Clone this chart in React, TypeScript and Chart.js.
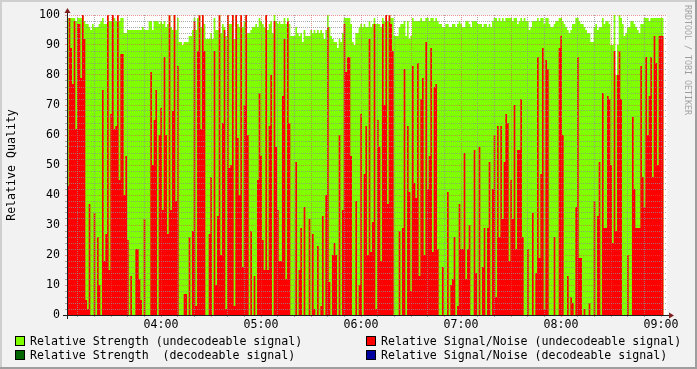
import React, { useEffect, useRef } from 'react';
import { Chart, registerables } from 'chart.js';

Chart.register(...registerables);

const FONT = "'DejaVu Sans Mono', monospace";

// time axis in minutes after 03:00
const startMinute = 3.6;
const endMinute = 363.6;
const stepMinutes = 1;

const hourTicks = [60, 120, 180, 240, 300, 360];
const hourLabels = ['04:00', '05:00', '06:00', '07:00', '08:00', '09:00'];

const strengthUndecodeable = [
  100, 99, 99, 99, 99, 99, 98, 99, 99, 99, 100, 98, 97, 97, 96, 95, 97, 96, 96, 96,
  97, 98, 99, 97, 97, 100, 98, 98, 100, 99, 98, 100, 98, 99, 99, 94, 94, 95, 95, 95,
  95, 95, 95, 95, 95, 95, 96, 95, 95, 95, 98, 98, 95, 98, 98, 98, 97, 98, 97, 98,
  96, 97, 100, 96, 95, 100, 95, 99, 91, 91, 90, 91, 91, 91, 93, 93, 95, 99, 95, 99,
  100, 96, 100, 97, 92, 92, 92, 94, 92, 99, 95, 95, 100, 94, 97, 96, 93, 100, 97, 97,
  100, 92, 100, 97, 96, 100, 96, 98, 100, 94, 94, 95, 96, 96, 97, 96, 99, 98, 97, 96,
  100, 95, 97, 98, 94, 100, 98, 97, 98, 97, 97, 99, 97, 99, 97, 93, 93, 93, 96, 94,
  93, 94, 91, 95, 93, 93, 93, 95, 94, 95, 94, 95, 94, 95, 94, 92, 95, 100, 96, 93,
  92, 91, 91, 89, 92, 91, 94, 99, 99, 99, 99, 97, 91, 90, 94, 94, 96, 97, 96, 97,
  96, 96, 98, 96, 97, 99, 97, 97, 97, 96, 99, 98, 100, 98, 100, 99, 99, 93, 93, 93,
  96, 97, 97, 98, 93, 98, 92, 93, 99, 98, 98, 98, 98, 99, 98, 98, 99, 99, 98, 99,
  99, 98, 99, 98, 97, 97, 96, 96, 97, 97, 96, 96, 97, 97, 96, 97, 98, 97, 96, 96,
  98, 98, 97, 96, 98, 98, 98, 97, 97, 97, 96, 97, 97, 96, 97, 96, 98, 99, 99, 98,
  99, 98, 99, 98, 99, 99, 99, 99, 98, 99, 99, 97, 98, 99, 98, 99, 98, 98, 95, 96,
  98, 98, 98, 99, 98, 99, 99, 97, 99, 99, 97, 96, 96, 97, 98, 98, 99, 99, 98, 97,
  96, 95, 94, 95, 97, 97, 99, 99, 98, 97, 97, 96, 95, 94, 94, 91, 91, 96, 97, 95,
  96, 96, 99, 97, 98, 98, 97, 90, 90, 100, 80, 90, 100, 99, 97, 93, 94, 96, 96, 98,
  98, 97, 96, 95, 94, 97, 97, 99, 99, 99, 98, 99, 99, 99, 99, 99, 99, 99,
];

const snrUndecodeable = [
  100, 43, 99, 89, 77, 98, 62, 97, 97, 79, 100, 92, 5, 2, 37, 0, 0, 34, 0, 26,
  10, 0, 75, 18, 27, 100, 15, 67, 100, 62, 63, 100, 45, 87, 87, 40, 53, 25, 0, 13,
  0, 0, 22, 22, 12, 5, 0, 32, 0, 0, 0, 81, 50, 65, 75, 0, 60, 69, 35, 86,
  60, 27, 100, 35, 68, 100, 38, 83, 0, 0, 0, 7, 7, 0, 26, 0, 28, 98, 3, 88,
  100, 62, 100, 88, 0, 0, 27, 46, 0, 88, 10, 33, 100, 20, 64, 95, 2, 100, 49, 50,
  100, 3, 100, 59, 40, 100, 16, 70, 100, 60, 0, 28, 0, 13, 0, 45, 74, 53, 25, 15,
  100, 15, 63, 80, 0, 98, 56, 35, 18, 18, 73, 92, 12, 98, 64, 0, 0, 0, 51, 0,
  15, 29, 0, 36, 0, 0, 32, 0, 27, 2, 0, 23, 0, 3, 33, 0, 40, 96, 11, 0,
  20, 24, 20, 0, 60, 0, 35, 97, 81, 86, 86, 53, 0, 0, 38, 0, 10, 67, 0, 47,
  63, 20, 92, 21, 31, 97, 2, 65, 56, 18, 97, 70, 100, 37, 100, 97, 88, 0, 0, 0,
  28, 0, 29, 82, 0, 63, 41, 8, 83, 44, 39, 84, 13, 72, 79, 20, 91, 42, 53, 89,
  21, 76, 77, 22, 0, 0, 16, 0, 0, 41, 0, 10, 12, 26, 0, 3, 37, 22, 22, 54,
  12, 22, 30, 0, 0, 55, 14, 0, 56, 0, 16, 29, 0, 29, 51, 0, 42, 60, 6, 63,
  26, 63, 32, 51, 67, 64, 18, 45, 32, 70, 22, 55, 55, 72, 26, 0, 0, 22, 0, 0,
  34, 0, 14, 86, 19, 47, 89, 2, 85, 82, 0, 0, 0, 26, 0, 0, 89, 93, 60, 0,
  0, 13, 0, 6, 4, 0, 36, 86, 19, 19, 0, 2, 0, 0, 4, 0, 0, 38, 0, 33,
  51, 0, 74, 29, 29, 73, 72, 50, 24, 88, 28, 80, 88, 72, 0, 0, 0, 20, 0, 0,
  66, 42, 29, 29, 29, 83, 46, 36, 86, 60, 73, 86, 46, 93, 84, 50, 93, 93,
];

const strengthDecodeable: number[] = [];
const snrDecodeable: number[] = [];

const seriesLabels = [
  'Relative Strength (undecodeable signal)',
  'Relative Signal/Noise (undecodeable signal)',
  'Relative Strength  (decodeable signal)',
  'Relative Signal/Noise (decodeable signal)',
];
const seriesColors = ['#7FFF00', '#FF0000', '#006400', '#0000A0'];

const yTickValues = Array.from({ length: 51 }, (_, k) => k * 2);
const xGridValues = Array.from({ length: 36 }, (_, k) => (k + 1) * 10);

// each sample covers [start + i*step, start + (i+1)*step]; the closing point repeats the last sample
const toSteps = (vals: number[]) => {
  const pts = vals.map((v, i) => ({ x: startMinute + i * stepMinutes, y: v }));
  if (vals.length) pts.push({ x: startMinute + vals.length * stepMinutes, y: vals[vals.length - 1] });
  return pts;
};

const GRID = 'rgba(143,143,143,0.75)';
const MGRID = 'rgba(222,79,79,0.6)';

const rrdPlugin = {
  id: 'rrdDecor',
  beforeDraw(chart: any) {
    const { ctx, chartArea: a, width, height } = chart;
    ctx.save();
    ctx.fillStyle = '#F2F2F2';
    ctx.fillRect(0, 0, width, height);
    ctx.fillStyle = '#CFCFCF';
    ctx.fillRect(0, 0, width, 2);
    ctx.fillRect(0, 0, 2, height);
    ctx.fillStyle = '#9E9E9E';
    ctx.fillRect(0, height - 2, width, 2);
    ctx.fillRect(width - 2, 0, 2, height);
    ctx.fillStyle = '#FFFFFF';
    ctx.fillRect(a.left, a.top, a.right - a.left, a.bottom - a.top);
    ctx.restore();
  },
  afterDraw(chart: any) {
    const { ctx, chartArea: a, width } = chart;
    ctx.save();
    // axes
    ctx.strokeStyle = '#1F1F1F';
    ctx.lineWidth = 1;
    ctx.beginPath();
    ctx.moveTo(a.left - 4, a.bottom + 0.5);
    ctx.lineTo(a.right + 4, a.bottom + 0.5);
    ctx.moveTo(a.left + 0.5, a.bottom + 4);
    ctx.lineTo(a.left + 0.5, a.top - 4);
    ctx.stroke();
    // arrows
    ctx.fillStyle = '#801F1F';
    ctx.beginPath();
    ctx.moveTo(a.right + 2, a.bottom + 0.5 - 3);
    ctx.lineTo(a.right + 2, a.bottom + 0.5 + 3);
    ctx.lineTo(a.right + 7, a.bottom + 0.5);
    ctx.closePath();
    ctx.fill();
    ctx.beginPath();
    ctx.moveTo(a.left + 0.5 - 3, a.top - 2);
    ctx.lineTo(a.left + 0.5 + 3, a.top - 2);
    ctx.lineTo(a.left + 0.5, a.top - 7);
    ctx.closePath();
    ctx.fill();

    // legend
    const colX = [15, 366];
    const rowY = [341, 355];
    ctx.font = `11.6px ${FONT}`;
    ctx.textBaseline = 'middle';
    ctx.textAlign = 'left';
    chart.data.datasets.forEach((ds: any, i: number) => {
      const x = colX[i % 2];
      const y = rowY[Math.floor(i / 2)];
      ctx.fillStyle = ds.backgroundColor;
      ctx.fillRect(x, y - 5, 10, 10);
      ctx.strokeStyle = '#000000';
      ctx.lineWidth = 1;
      ctx.strokeRect(x + 0.5, y - 4.5, 9, 9);
      ctx.fillStyle = '#000000';
      ctx.fillText(ds.label, x + 15, y + 0.5);
    });

    // watermark
    ctx.translate(width - 6, 5);
    ctx.rotate(Math.PI / 2);
    ctx.font = `8.3px ${FONT}`;
    ctx.fillStyle = 'rgba(0,0,0,0.35)';
    ctx.textBaseline = 'top';
    ctx.fillText('RRDTOOL / TOBI OETIKER', 0, 0);
    ctx.restore();
  },
};

export default function App() {
  const ref = useRef<HTMLCanvasElement | null>(null);
  useEffect(() => {
    document.body.style.margin = '0';
    const canvas = ref.current!;
    const tickFont = { family: FONT, size: 11.6 };
    const datasets = [
      { data: toSteps(strengthUndecodeable), order: 2 },
      { data: toSteps(snrUndecodeable), order: 1 },
      { data: toSteps(strengthDecodeable), order: 0 },
      { data: toSteps(snrDecodeable), order: 0 },
    ].map((d, i) => ({
      ...d,
      type: 'line' as const,
      label: seriesLabels[i],
      backgroundColor: seriesColors[i],
      borderColor: 'rgba(0,0,0,0)',
      borderWidth: 0,
      pointRadius: 0,
      stepped: 'after' as const,
      fill: 'origin',
      tension: 0,
    }));
    const chart = new Chart(canvas, {
      type: 'line',
      data: { datasets },
      options: {
        animation: false,
        responsive: false,
        devicePixelRatio: 1,
        events: [],
        layout: { padding: { left: 0, right: 30, top: 15, bottom: 34 } },
        plugins: { legend: { display: false }, tooltip: { enabled: false } },
        scales: {
          x: {
            type: 'linear',
            min: startMinute,
            max: endMinute,
            offset: false,
            afterBuildTicks: (s: any) => {
              s.ticks = xGridValues.map((v) => ({ value: v }));
            },
            afterFit: (s: any) => {
              s.height = 20;
            },
            ticks: {
              autoSkip: false,
              maxRotation: 0,
              minRotation: 0,
              includeBounds: false,
              padding: 1,
              color: '#000000',
              font: tickFont,
              callback: (v: any) => {
                const k = hourTicks.indexOf(Number(v));
                return k >= 0 ? hourLabels[k] : '';
              },
            },
            grid: {
              z: 1,
              drawTicks: true,
              tickLength: 2,
              lineWidth: 1,
              color: (c: any) => (c.tick && c.tick.value % 30 === 0 ? MGRID : GRID),
            },
            border: { display: false, dash: [1, 1] },
          },
          y: {
            min: 0,
            max: 100,
            afterBuildTicks: (s: any) => {
              s.ticks = yTickValues.map((v) => ({ value: v }));
            },
            afterFit: (s: any) => {
              s.width = 67;
            },
            ticks: {
              autoSkip: false,
              padding: 5,
              color: '#000000',
              font: tickFont,
              callback: (v: any) => (Number(v) % 10 === 0 ? String(v) : ''),
            },
            grid: {
              z: 1,
              drawTicks: true,
              tickLength: 2,
              lineWidth: 1,
              color: (c: any) => (c.tick && c.tick.value % 10 === 0 ? MGRID : GRID),
            },
            border: { display: false, dash: [1, 1] },
            title: {
              display: true,
              text: 'Relative Quality',
              color: '#000000',
              font: { family: FONT, size: 11.6 },
              padding: { top: 5, bottom: 0 },
            },
          },
        },
      },
      plugins: [rrdPlugin],
    } as any);
    return () => chart.destroy();
  }, []);
  return <canvas ref={ref} width={697} height={369} style={{ display: 'block', width: 697, height: 369 }} />;
}
